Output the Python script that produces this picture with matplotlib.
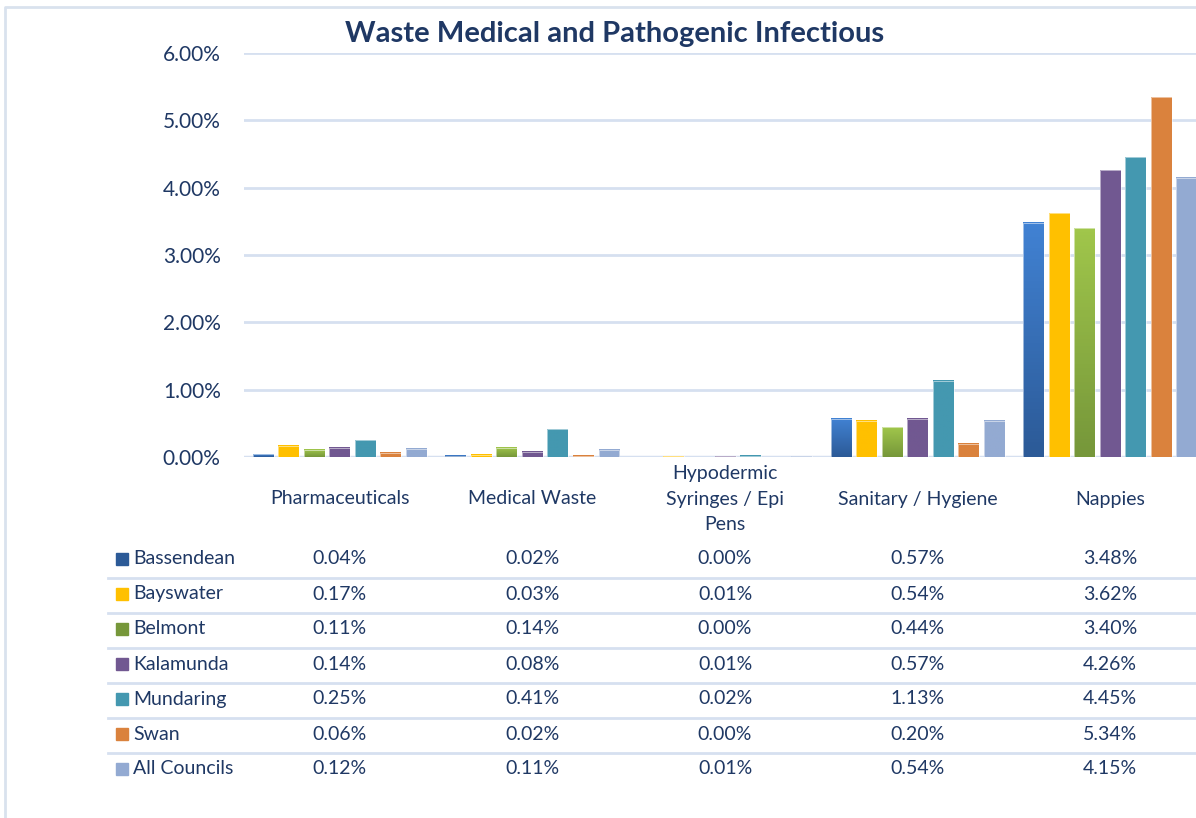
import numpy as np
import matplotlib
matplotlib.use("Agg")
import matplotlib.pyplot as plt
import matplotlib.transforms as mtransforms
from matplotlib.patches import Rectangle
from matplotlib.colors import LinearSegmentedColormap

# ---- data (percent) ----
categories = ["Pharmaceuticals", "Medical Waste", "Hypodermic\nSyringes / Epi\nPens",
              "Sanitary / Hygiene", "Nappies"]
councils = ["Bassendean", "Bayswater", "Belmont", "Kalamunda", "Mundaring", "Swan", "All Councils"]

bassendean = [0.04, 0.02, 0.00, 0.57, 3.48]
bayswater = [0.17, 0.03, 0.01, 0.54, 3.62]
belmont = [0.11, 0.14, 0.00, 0.44, 3.40]
kalamunda = [0.14, 0.08, 0.01, 0.57, 4.26]
mundaring = [0.25, 0.41, 0.02, 1.13, 4.45]
swan = [0.06, 0.02, 0.00, 0.20, 5.34]
all_councils = [0.12, 0.11, 0.01, 0.54, 4.15]

series = [bassendean, bayswater, belmont, kalamunda, mundaring, swan, all_councils]

# top / bottom colours (gradient where Excel used one)
col_top = ["#4182D3", "#FFC000", "#A0C64B", "#715891", "#4498B0", "#DA823D", "#93AAD2"]
col_bot = ["#2C5A97", "#FFC000", "#76973A", "#715891", "#4498B0", "#DA823D", "#93AAD2"]

TXT = "#1F3864"
GRID = "#D6E0F0"
plt.rcParams["font.family"] = ["Lato", "DejaVu Sans"]

fig = plt.figure(figsize=(11.96, 8.18), dpi=100)
ax = fig.add_axes([0.2037, 0.4413, 0.805, 0.4939])

x = np.arange(len(categories))
pitch = 0.1325
width = 0.109
n = len(series)
for i, vals in enumerate(series):
    xs = x + (i - (n - 1) / 2) * pitch
    cmap = LinearSegmentedColormap.from_list("g%d" % i, [col_bot[i], col_top[i]])
    for xc, v in zip(xs, vals):
        if v <= 0:
            continue
        grad = np.linspace(0, 1, 64).reshape(-1, 1)
        ax.imshow(grad, cmap=cmap, origin="lower", aspect="auto",
                  extent=[xc - width / 2, xc + width / 2, 0, v], zorder=3)
        ax.add_patch(Rectangle((xc - width / 2, 0), width, v, fill=False,
                               edgecolor="white", lw=0.6, alpha=0.6, zorder=4))

ax.set_xlim(-0.5, 4.5)
ax.set_ylim(0, 6)
ax.set_yticks(np.arange(0, 7, 1))
ax.set_yticklabels(["%.2f%%" % v for v in range(7)], fontsize=15, color=TXT)
ax.tick_params(axis="y", length=0, pad=16.5)
ax.set_xticks([])
ax.grid(True, axis="y", color=GRID, lw=2, zorder=0)
for s in ax.spines.values():
    s.set_visible(False)
ax.axhline(0, color=GRID, lw=2.5, zorder=2)

ax.set_title("Waste Medical and Pathogenic Infectious", fontsize=21, fontweight="bold",
             color=TXT, x=0.385, y=1.0, pad=8)

# ---- category labels and data table ----
tr = mtransforms.blended_transform_factory(ax.transData, fig.transFigure)
H = 818.0
for xc, lab in zip(x, categories):
    fig.text(xc, 1 - 499 / H, lab, transform=tr, ha="center", va="center",
             fontsize=14, color=TXT, linespacing=1.58)

row0 = 559
row_h = 35
for r, (name, vals) in enumerate(zip(councils, series)):
    yc = 1 - (row0 + r * row_h) / H
    fig.patches.append(Rectangle((116 / 1196, yc - 6 / H), 12 / 1196, 12 / H,
                                 transform=fig.transFigure,
                                 color=col_top[r] if r not in (0, 2) else col_bot[r]))
    fig.text(133 / 1196, yc, name, ha="left", va="center", fontsize=14, color=TXT)
    for xc, v in zip(x, vals):
        fig.text(xc, yc, "%.2f%%" % v, transform=tr, ha="center", va="center",
                 fontsize=14, color=TXT)
    if r < n - 1:
        ly = 1 - (row0 + r * row_h + 18.5) / H
        fig.add_artist(plt.Line2D([108 / 1196, 1.0], [ly, ly], color=GRID, lw=2,
                                  transform=fig.transFigure))

# chart border
fig.add_artist(plt.Line2D([5 / 1196, 5 / 1196, 1.0], [0.0, 1 - 7 / H, 1 - 7 / H],
                          color="#D9E2EE", lw=2, transform=fig.transFigure))

fig.savefig("out.png", dpi=100)
